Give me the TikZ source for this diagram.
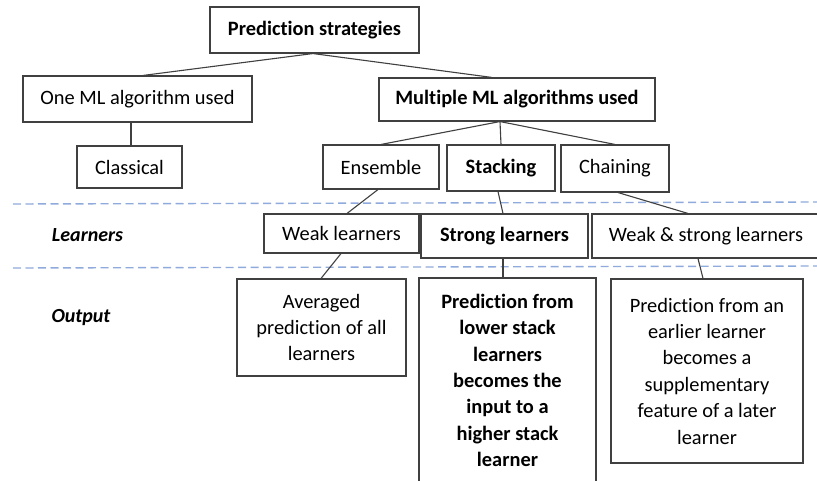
\documentclass[tikz,border=0pt]{standalone}
\usepackage{fontspec}
\setmainfont{Carlito}[RawFeature={-liga;-clig;-calt;-dlig}]
\definecolor{boxline}{HTML}{404040}
\definecolor{dashblue}{HTML}{8FAADC}
\begin{document}
\begin{tikzpicture}[x=1pt,y=-1pt,
  box/.style={draw=boxline, line width=1.1pt, fill=white, inner sep=2pt, align=center,
    font=\fontsize{20.4}{26.4}\selectfont},
  lbl/.style={font=\fontsize{20}{26.4}\selectfont\bfseries\itshape},
  conn/.style={draw=boxline, line width=1.1pt},
  sep/.style={draw=dashblue, line width=1.4pt, dash pattern=on 8pt off 4.5pt}]
\clip (0,0) rectangle (817,481);
\fill[white] (0,0) rectangle (817,481);
% separators
\coordinate (s1a) at (13,204);
\coordinate (s1b) at (817,202);
\coordinate (s2a) at (13,268);
\coordinate (s2b) at (817,266);
\draw[sep] (s1a) -- (s1b);
\draw[sep] (s2a) -- (s2b);
% row labels
\node[lbl] (llearn) at (87.5,235) {Learners};
\node[lbl] (lout) at (81,318) {Output};
% nodes
\node[box, minimum width=209, minimum height=46] (ps) at (314.5,30) {\bfseries Predict\kern0pt ion strategies};
\node[box, minimum width=229, minimum height=46] (one) at (137.5,99) {One ML algorithm used};
\node[box, minimum width=276, minimum height=43] (multi) at (517,99.5) {\bfseries Multiple ML algorithms used};
\node[box, minimum width=105, minimum height=42] (classical) at (129.5,167) {Classical};
\node[box, minimum width=116, minimum height=44] (ens) at (381,167) {Ensemble};
\node[box, minimum width=108, minimum height=46] (stack) at (501,168) {\bfseries Stacking};
\node[box, minimum width=108, minimum height=47] (chain) at (615,168.5) {Chaining};
\node[box, minimum width=155, minimum height=39] (weak) at (341.5,233.5) {Weak learners};
\node[box, minimum width=167, minimum height=44] (strong) at (504.5,236) {\bfseries Strong learners};
\node[box, minimum width=228, minimum height=44] (ws) at (706,236) {Weak \& strong learners};
\node[box, minimum width=169, minimum height=97] (avg) at (321.5,327.5) {Averaged\\predict\kern0pt ion of all\\learners};
\node[box, minimum width=177, minimum height=205] (lower) at (507.5,380.5) {\bfseries Predict\kern0pt ion from\\\bfseries lower stack\\\bfseries learners\\\bfseries becomes the\\\bfseries input to a\\\bfseries higher stack\\\bfseries learner};
\node[box, minimum width=192, minimum height=184] (earlier) at (707,371) {Predict\kern0pt ion from an\\earlier learner\\becomes a\\supplementary\\feature of a later\\learner};
% connectors
\draw[conn] ([xshift=-1.5pt]ps.south) -- ([xshift=5.5pt]one.north);
\draw[conn] ([xshift=-1.5pt]ps.south) -- ([xshift=-25pt]multi.north);
\draw[conn] ([xshift=-6.5pt]one.south) -- ([xshift=1.5pt]classical.north);
\draw[conn] ([xshift=-17pt]multi.south) -- (ens.north);
\draw[conn] ([xshift=-17pt]multi.south) -- (stack.north);
\draw[conn] ([xshift=-17pt]multi.south) -- (chain.north);
\draw[conn] ([xshift=-3pt]ens.south) -- ([xshift=5.5pt]weak.north);
\draw[conn] ([xshift=-3pt]stack.south) -- ([xshift=-1.5pt]strong.north);
\draw[conn] ([xshift=3pt]chain.south) -- ([xshift=-18pt]ws.north);
\draw[conn] ([xshift=-0.5pt]weak.south) -- ([xshift=-0.5pt]avg.north);
\draw[conn] ([xshift=-1.5pt]strong.south) -- ([xshift=-4.5pt]lower.north);
\draw[conn] ([xshift=-8pt]ws.south) -- ([xshift=-4pt]earlier.north);
\end{tikzpicture}
\end{document}
